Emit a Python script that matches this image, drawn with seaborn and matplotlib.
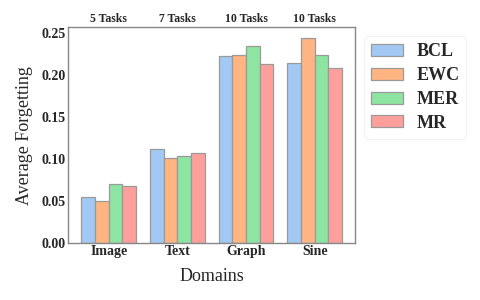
import numpy as np
import pandas as pd
import matplotlib
matplotlib.use("Agg")
import matplotlib.pyplot as plt
import matplotlib.transforms as mtransforms
import seaborn as sns

# =====================================
# DATA
# =====================================

domains = ["Image", "Text", "Graph", "Sine"]
task_labels = ["5 Tasks", "7 Tasks", "10 Tasks", "10 Tasks"]
methods = ["BCL", "EWC", "MER", "MR"]

bcl = [0.0556, 0.1115, 0.2220, 0.2147]
ewc = [0.0508, 0.1008, 0.2240, 0.2444]
mer = [0.0710, 0.1032, 0.2340, 0.2234]
mr = [0.0675, 0.1075, 0.2135, 0.2080]

rows = []
for m, vals in zip(methods, [bcl, ewc, mer, mr]):
    for d, v in zip(domains, vals):
        rows.append({"Domain": d, "Method": m, "Forgetting": v})
df = pd.DataFrame(rows)

# =====================================
# PLOT
# =====================================

sns.set_style("white")
plt.rcParams["font.family"] = ["Liberation Serif", "DejaVu Serif"]

fig = plt.figure(figsize=(4.8, 3.0), dpi=100)
ax = fig.add_axes([0.142, 0.189, 0.598, 0.72])

sns.barplot(
    data=df,
    x="Domain",
    y="Forgetting",
    hue="Method",
    palette="pastel",
    saturation=1,
    edgecolor="#9a9a9a",
    linewidth=0.9,
    width=0.8,
    ax=ax
)

ax.set_xlim(-0.59, 3.59)
ax.set_ylim(0, max(max(bcl), max(ewc), max(mer), max(mr)) * 1.05)
ax.set_yticks([0.0, 0.05, 0.10, 0.15, 0.20, 0.25])
ax.set_yticklabels(["0.00", "0.05", "0.10", "0.15", "0.20", "0.25"])

for lab in ax.get_xticklabels() + ax.get_yticklabels():
    lab.set_fontweight("bold")
    lab.set_fontsize(10)
ax.tick_params(axis="both", length=0, pad=1.5)

ax.set_xlabel("Domains", fontsize=13, labelpad=7)
ax.set_ylabel("Average Forgetting", fontsize=13, labelpad=6)

for s in ax.spines.values():
    s.set_color("#888888")
    s.set_linewidth(1)

trans = mtransforms.blended_transform_factory(ax.transData, ax.transAxes)
for i, t in enumerate(task_labels):
    ax.text(i, 1.012, t, transform=trans, ha="center", va="bottom",
            fontsize=8.5, fontweight="bold")

leg = ax.legend(
    loc="upper left",
    bbox_to_anchor=(1.0, 1.0),
    prop={"weight": "bold", "size": 13},
    handlelength=1.75,
    handleheight=0.65,
    labelspacing=0.38,
    borderpad=0.38,
    handletextpad=0.75,
    borderaxespad=0.5,
    frameon=True,
    fancybox=True
)
leg.get_frame().set_edgecolor("#eeeeee")
leg.get_frame().set_linewidth(0.8)

fig.savefig("out.png", dpi=100)
plt.close(fig)
